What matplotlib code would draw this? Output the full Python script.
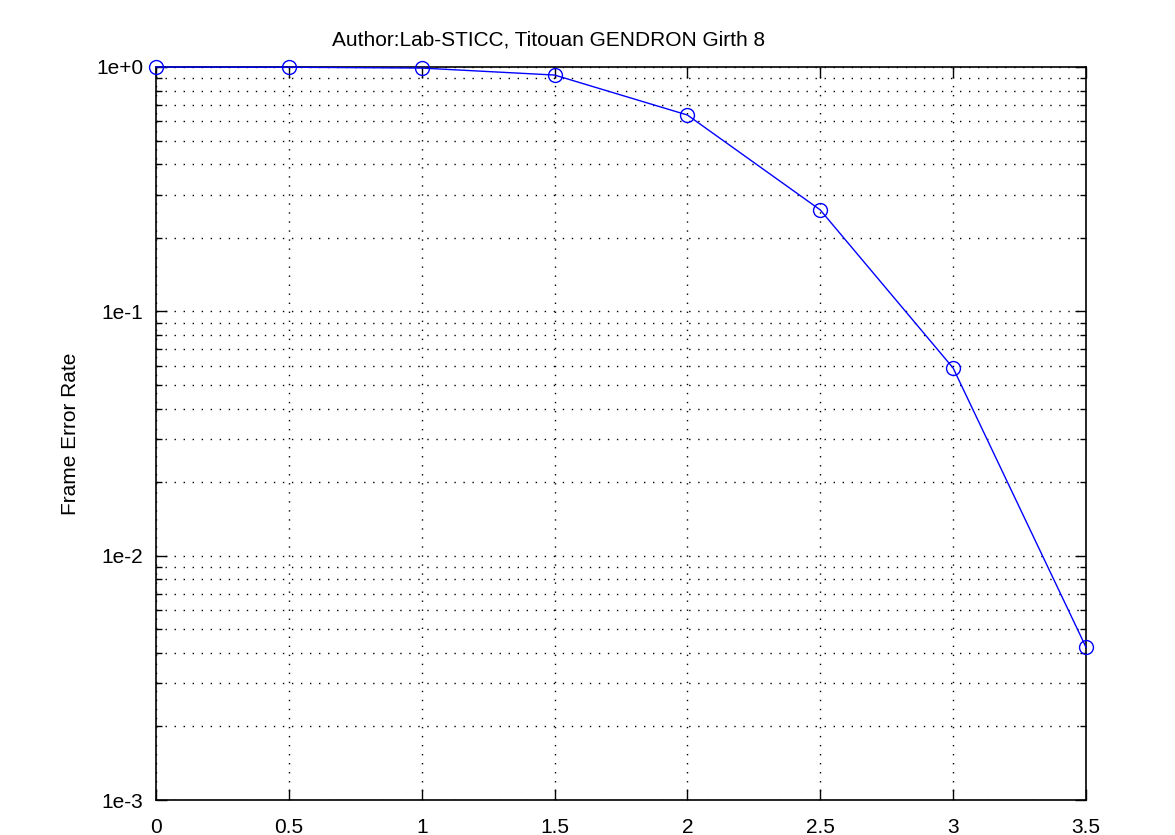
import matplotlib
matplotlib.use("Agg")
import matplotlib.pyplot as plt
from matplotlib.ticker import LogLocator, FixedLocator, NullFormatter

plt.rcParams["font.family"] = ["Liberation Sans", "DejaVu Sans"]

# ── data ─────────────────────────────────────────────────────────────────────
snr = [0, 0.5, 1, 1.5, 2, 2.5, 3, 3.5]
fer = [1.0, 0.998, 0.99, 0.927, 0.636, 0.26, 0.0586, 0.00422]

x_ticks  = [0, 0.5, 1, 1.5, 2, 2.5, 3, 3.5]
x_labels = ["0", "0.5", "1", "1.5", "2", "2.5", "3", "3.5"]
y_ticks  = [1e-3, 1e-2, 1e-1, 1e0]
y_labels = ["1e-3", "1e-2", "1e-1", "1e+0"]

TITLE = "Author:Lab-STICC, Titouan GENDRON Girth 8"

# ── figure ───────────────────────────────────────────────────────────────────
fig = plt.figure(figsize=(11.75, 8.35), dpi=100)
ax = fig.add_axes([156 / 1175, 1 - 800 / 835, 930 / 1175, 733 / 835])

ax.semilogy(snr, fer, color="blue", linewidth=1.0, marker="o",
            markersize=10, markerfacecolor="none", markeredgecolor="blue",
            markeredgewidth=1.0, clip_on=False, zorder=5)

ax.set_xlim(0, 3.5)
ax.set_ylim(1e-3, 1e0)
ax.xaxis.set_major_locator(FixedLocator(x_ticks))
ax.set_xticklabels(x_labels)
ax.yaxis.set_major_locator(FixedLocator(y_ticks))
ax.set_yticklabels(y_labels)
ax.yaxis.set_minor_locator(LogLocator(base=10, subs=range(2, 10)))
ax.yaxis.set_minor_formatter(NullFormatter())

dotted = (0, (1, 5.5))
ax.grid(True, which="major", axis="both", color="black", linestyle=dotted,
        linewidth=1.0)
ax.grid(True, which="minor", axis="y", color="black", linestyle=dotted,
        linewidth=1.0)

ax.tick_params(which="both", direction="in", top=True, right=True, labelsize=15)
ax.tick_params(axis="x", pad=13)
ax.tick_params(axis="y", pad=9)
ax.tick_params(which="major", length=8, width=1)
ax.tick_params(which="minor", length=4, width=1)
for s in ax.spines.values():
    s.set_linewidth(1.2)

ax.set_ylabel("Frame Error Rate", fontsize=15, labelpad=12)
fig.text(549 / 1175, 1 - 40 / 835, TITLE, ha="center", va="center", fontsize=15)

fig.savefig("out.png", dpi=100)
